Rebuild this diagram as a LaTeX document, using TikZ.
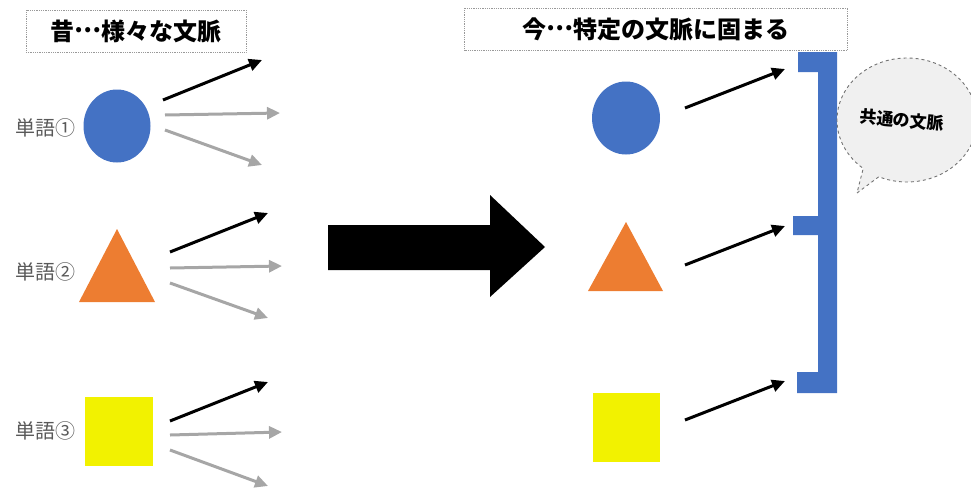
\documentclass[tikz,border=0pt]{standalone}
\usepackage{fontspec}
\setmainfont{Noto Sans CJK JP}
\usetikzlibrary{arrows.meta,shapes.geometric,shapes.callouts}
\definecolor{shblue}{HTML}{4472C4}
\definecolor{shorange}{HTML}{ED7D31}
\definecolor{shyellow}{HTML}{F2F200}
\definecolor{argray}{HTML}{A6A6A6}
\definecolor{lblgray}{HTML}{595959}
\newcommand{\jell}{\raisebox{0.3em}{…}}
\tikzset{
  titlebox/.style={draw=black!40, densely dotted, line width=0.8pt, minimum height=42pt, inner sep=0pt, font=\fontsize{24}{24}\selectfont\bfseries},
  wordlbl/.style={text=lblgray, font=\fontsize{20}{20}\selectfont, inner sep=0pt},
  blackar/.style={draw=black, line width=3pt, -{Triangle[length=13pt,width=12pt]}},
  grayar/.style={draw=argray, line width=3pt, -{Triangle[length=13pt,width=12pt]}},
}
\begin{document}
\begin{tikzpicture}[x=1pt,y=-1pt]
\useasboundingbox (0,0) rectangle (971,490);
\clip (0,0) rectangle (971,490);
% titles
\node[titlebox, minimum width=220pt] (t1) at (136,31) {昔\jell 様々な文脈};
\node[titlebox, minimum width=383pt] (t2) at (656,29) {今\jell 特定の文脈に固まる};
% left shapes
\node[ellipse, fill=shblue, minimum width=67pt, minimum height=73pt, inner sep=0pt] (c1) at (117,126) {};
\fill[shorange] (117,229) -- (155,302) -- (79,302) -- cycle;
\coordinate (tr1) at (117,270);
\node[fill=shyellow, minimum width=68pt, minimum height=69pt, inner sep=0pt] (s1) at (119,431) {};
% labels
\node[wordlbl, anchor=east] (w1) at (76,128) {単語①};
\node[wordlbl, anchor=east] (w2) at (76,272) {単語②};
\node[wordlbl, anchor=east] (w3) at (76,431) {単語③};
% left arrows
\coordinate (a1s) at (163,100); \coordinate (a1e) at (262,60);
\coordinate (a2s) at (165,115); \coordinate (a2e) at (280,113);
\coordinate (a3s) at (165,130); \coordinate (a3e) at (262,165);
\draw[blackar] (a1s) -- (a1e);
\draw[grayar] (a2s) -- (a2e);
\draw[grayar] (a3s) -- (a3e);
\coordinate (b1s) at (170,252); \coordinate (b1e) at (268,213);
\coordinate (b2s) at (170,268); \coordinate (b2e) at (282,266);
\coordinate (b3s) at (170,283); \coordinate (b3e) at (268,318);
\draw[blackar] (b1s) -- (b1e);
\draw[grayar] (b2s) -- (b2e);
\draw[grayar] (b3s) -- (b3e);
\coordinate (d1s) at (170,421); \coordinate (d1e) at (268,382);
\coordinate (d2s) at (170,435); \coordinate (d2e) at (282,432);
\coordinate (d3s) at (170,450); \coordinate (d3e) at (268,486);
\draw[blackar] (d1s) -- (d1e);
\draw[grayar] (d2s) -- (d2e);
\draw[grayar] (d3s) -- (d3e);
% big arrow
\fill[black] (328,225) -- (490,225) -- (490,195) -- (545,247) -- (490,297) -- (490,270) -- (328,270) -- cycle;
% right shapes
\node[ellipse, fill=shblue, minimum width=68pt, minimum height=73pt, inner sep=0pt] (c2) at (626,118) {};
\fill[shorange] (626,222) -- (663,291) -- (588,291) -- cycle;
\node[fill=shyellow, minimum width=67pt, minimum height=69pt, inner sep=0pt] (s2) at (626,427) {};
% bracket
\fill[shblue] (798,52) -- (837,52) -- (837,393) -- (797,393) -- (797,372) -- (818,372) -- (818,235) -- (793,235) -- (793,216) -- (818,216) -- (818,72) -- (798,72) -- cycle;
% right arrows
\coordinate (r1s) at (685,108); \coordinate (r1e) at (785,69);
\coordinate (r2s) at (685,265); \coordinate (r2e) at (785,226);
\coordinate (r3s) at (685,420); \coordinate (r3e) at (785,381);
\draw[blackar] (r1s) -- (r1e);
\draw[blackar] (r2s) -- (r2e);
\draw[blackar] (r3s) -- (r3e);
% bubble
\node[ellipse callout, callout absolute pointer={(857,193)}, draw=black!55, dashed, line width=0.9pt, fill=black!6, minimum width=140pt, minimum height=124pt, inner sep=0pt] (bub) at (907,120) {};
\node[font=\fontsize{17}{17}\selectfont\bfseries, rotate=-5] (bt) at (902,120) {共通の文脈};
\end{tikzpicture}
\end{document}
